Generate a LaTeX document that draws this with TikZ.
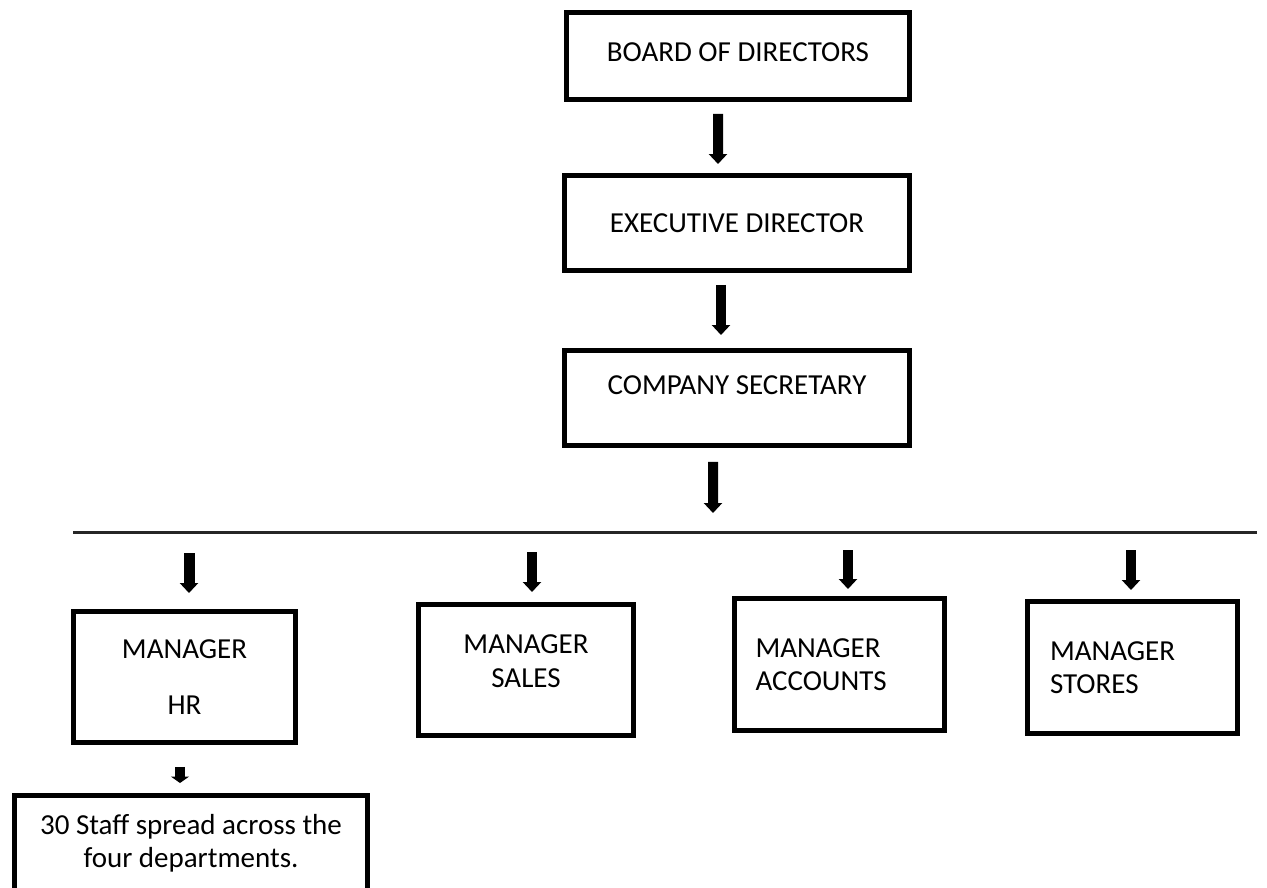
\documentclass[tikz,border=0pt]{standalone}
\usepackage{fontspec}
\setmainfont{Carlito}
\usetikzlibrary{arrows.meta}
\begin{document}
\begin{tikzpicture}[x=0.02cm, y=-0.02cm, every node/.style = {shape=rectangle, draw, line width=0.1cm, inner sep=0pt, align=center, font=\fontsize{16.5}{19}\selectfont}, line cap=butt]
	\tikzstyle{arr} = [line width=0.2cm, -{Triangle[width=0.36cm, length=0.2cm]}]
	\tikzstyle{smallarr} = [line width=0.2cm, -{Triangle[width=0.36cm, length=0.13cm]}]
	\tikzstyle{top} = [minimum width=6.9cm, minimum height=1.9cm]
	\tikzstyle{mgr} = [minimum width=4.3cm, minimum height=2.64cm]
	\tikzstyle{mgrl} = [mgr, align=left, text width=3.36cm]
	\clip (0,0) rectangle (1267,888);
	\node[top, minimum width=6.86cm, minimum height=1.74cm, text depth=0.15cm] (board) at (738,56) {BOARD OF DIRECTORS};
	\node[top] (exec) at (737,223) {EXECUTIVE DIRECTOR};
	\node[top, text depth=0.5cm] (secretary) at (737,398) {COMPANY SECRETARY};
	\node[mgr, minimum width=4.44cm, minimum height=2.62cm] (hr) at (184.5,677) {MANAGER\\[13pt]HR};
	\node[mgr, minimum height=2.62cm, text depth=0.36cm] (sales) at (526,670) {MANAGER\\SALES};
	\node[mgrl, minimum width=4.2cm] (accounts) at (839.5,664.5) {MANAGER\\ACCOUNTS};
	\node[mgrl, minimum width=4.2cm, text width=3.3cm] (stores) at (1132.5,667.5) {MANAGER\\STORES};
	\node[minimum width=7.06cm, minimum height=1.9cm] (staff) at (191,843) {30 Staff spread across the\\four departments.};
	% line under the secretary
	\coordinate (rl) at (73,532);
	\coordinate (rr) at (1257,532);
	\draw[line width=0.06cm, black!85] (rl) -- (rr);
	\coordinate (a3) at (713,513);
	\coordinate (hrin) at (189,553);
	\coordinate (salesin) at (532,552);
	\coordinate (accin) at (848,550);
	\coordinate (storesin) at (1131,550);
	\draw[arr, shorten <=0.24cm, shorten >=0.18cm] ([xshift=-0.4cm]board.south) -- ([xshift=-0.38cm]exec.north);
	\draw[arr, shorten <=0.24cm, shorten >=0.26cm] ([xshift=-0.32cm]exec.south) -- ([xshift=-0.32cm]secretary.north);
	\draw[arr, shorten <=0.28cm] ([xshift=-0.48cm]secretary.south) -- (a3);
	\draw[arr, line width=0.22cm, shorten >=0.32cm] (hrin) -- (hrin |- hr.north);
	\draw[arr, shorten >=0.2cm] (salesin) -- (salesin |- sales.north);
	\draw[arr, shorten >=0.14cm] (accin) -- (accin |- accounts.north);
	\draw[arr, shorten >=0.18cm] (storesin) -- (storesin |- stores.north);
	\draw[smallarr, shorten <=0.44cm, shorten >=0.2cm] ([xshift=-0.09cm]hr.south) -- ([xshift=-0.09cm]hr.south |- staff.north);
\end{tikzpicture}
\end{document}
